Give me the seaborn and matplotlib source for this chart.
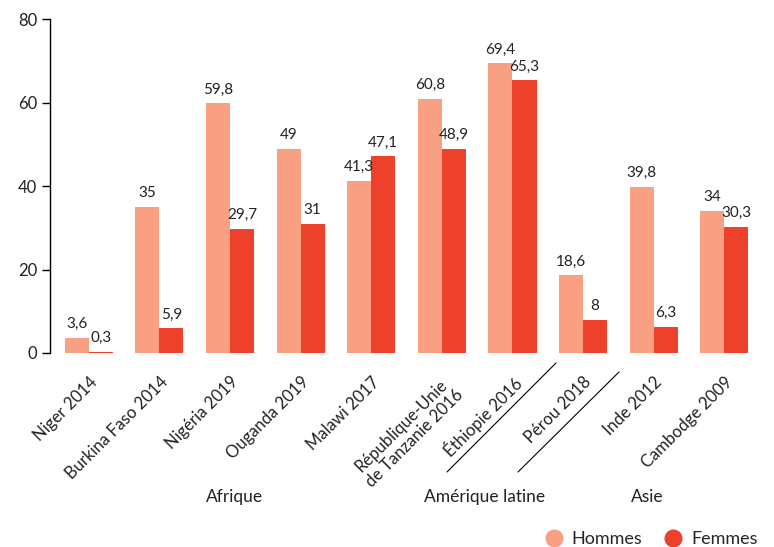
import pandas as pd
import matplotlib.pyplot as plt
import seaborn as sns
from matplotlib.lines import Line2D

sns.set_theme(style="white")
plt.rcParams['font.family'] = ['Lato', 'DejaVu Sans']

pays = ['Niger 2014', 'Burkina Faso 2014', 'Nigéria 2019', 'Ouganda 2019', 'Malawi 2017',
        'République-Unie\nde Tanzanie 2016', 'Éthiopie 2016', 'Pérou 2018', 'Inde 2012', 'Cambodge 2009']
hommes = [3.6, 35, 59.8, 49, 41.3, 60.8, 69.4, 18.6, 39.8, 34]
femmes = [0.3, 5.9, 29.7, 31, 47.1, 48.9, 65.3, 8, 6.3, 30.3]
regions = ['Afrique', 'Amérique latine', 'Asie']
couleurs = {'Hommes': '#F9A083', 'Femmes': '#EE412C'}

df = pd.DataFrame({
    'pays': pays * 2,
    'valeur': hommes + femmes,
    'sexe': ['Hommes'] * len(pays) + ['Femmes'] * len(pays),
})

fig = plt.figure(figsize=(7.74, 5.47), dpi=100)
ax = fig.add_axes([0.0646, 0.3547, 0.9214, 0.6103])

sns.barplot(data=df, x='pays', y='valeur', hue='sexe', palette=couleurs,
            width=0.68, saturation=1, ax=ax, legend=False, linewidth=0, edgecolor='none')

def fmt(v):
    return (f'{v:g}').replace('.', ',')

for cont, vals in zip(ax.containers, [hommes, femmes]):
    ax.bar_label(cont, labels=[fmt(v) for v in vals], padding=5, fontsize=11, color='#222222')

ax.set_xlim(-0.55, 9.55)
ax.set_ylim(0, 80)
ax.set_yticks([0, 20, 40, 60, 80])
ax.tick_params(axis='y', left=True, length=6, width=1, color='black', labelsize=12, labelcolor='#222222', pad=3)
ax.tick_params(axis='x', bottom=False, pad=9)
ax.set_xticks(range(len(pays)))
ax.set_xticklabels(pays, rotation=45, ha='right', va='top', rotation_mode='anchor',
                   fontsize=12, color='#222222', multialignment='center', linespacing=1.2)
ax.set_xlabel('')
ax.set_ylabel('')
for s in ['top', 'right', 'bottom']:
    ax.spines[s].set_visible(False)
ax.spines['left'].set_color('black')
ax.spines['left'].set_linewidth(1)

# régions
for lab, xc in zip(regions, [235, 485, 647]):
    fig.text(xc / 774, 1 - 497 / 547, lab, ha='center', va='center', fontsize=12.5, color='#222222')

for (x0, y0, x1, y1) in [(447, 472, 556, 363), (518, 472, 619, 372)]:
    fig.add_artist(Line2D([x0 / 774, x1 / 774], [1 - y0 / 547, 1 - y1 / 547],
                          color='black', linewidth=0.8, transform=fig.transFigure))

handles = [Line2D([], [], marker='o', linestyle='', markersize=12, color=couleurs[k]) for k in couleurs]
fig.legend(handles, list(couleurs), loc='lower right', bbox_to_anchor=(1.0, -0.03), ncol=2,
           frameon=False, fontsize=13, handlelength=1.0, handletextpad=0.5, columnspacing=1.2)

fig.savefig('out.png', dpi=100)
